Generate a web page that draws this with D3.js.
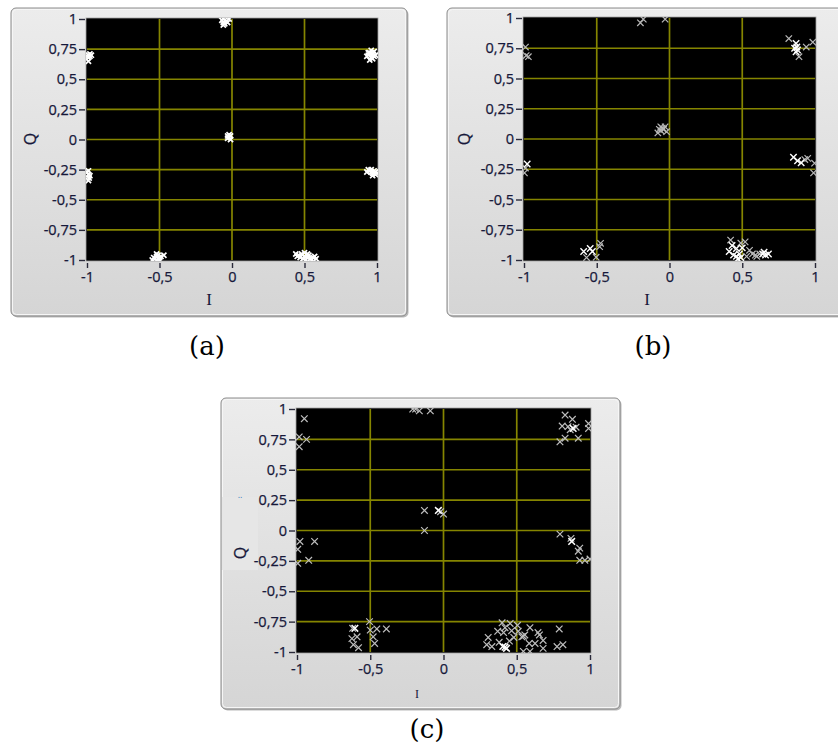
<!DOCTYPE html>
<html>
<head>
<meta charset="utf-8">
<script src="https://cdnjs.cloudflare.com/ajax/libs/d3/7.8.5/d3.min.js"></script>
<style>
  html, body { margin: 0; padding: 0; background: #ffffff; }
  svg { display: block; }
</style>
</head>
<body>
<svg id="chart" width="838" height="749"></svg>
<script>
// ---------- data ----------
const xTicks = [-1, -0.5, 0, 0.5, 1];
const xTickLabels = ["-1", "-0,5", "0", "0,5", "1"];
const yTicks = [1, 0.75, 0.5, 0.25, 0, -0.25, -0.5, -0.75, -1];
const yTickLabels = ["1", "0,75", "0,5", "0,25", "0", "-0,25", "-0,5", "-0,75", "-1"];
const panelCaptions = ["(a)", "(b)", "(c)"];
const xAxisTitle = "I";
const yAxisTitle = "Q";

// panel (a): constellation points [I, Q]
const pointsA = [
  [-0.06, 0.97], [-0.05, 0.96], [-0.04, 0.98], [-0.07, 0.99], [-0.05, 0.99], [-0.02, 1.0], [-0.03, 0.97], [-0.06, 0.95],
  [-0.99, 0.70], [-0.98, 0.69], [-0.97, 0.70], [-0.99, 0.68], [-0.98, 0.71], [-0.99, 0.65],
  [0.94, 0.70], [0.95, 0.72], [0.96, 0.68], [0.97, 0.71], [0.98, 0.73], [0.95, 0.66], [0.93, 0.69], [0.97, 0.67], [0.99, 0.70], [0.96, 0.74], [0.94, 0.72], [0.98, 0.69],
  [-0.02, 0.02], [-0.01, 0.03], [-0.03, 0.01], [-0.02, 0.04], [-0.01, 0.0], [-0.03, 0.03],
  [-0.99, -0.26], [-0.99, -0.29], [-0.985, -0.32], [-0.99, -0.34], [-0.98, -0.30], [-1.0, -0.27],
  [0.95, -0.26], [0.96, -0.27], [0.97, -0.28], [0.98, -0.26], [0.99, -0.29], [0.94, -0.25], [0.96, -0.25], [0.98, -0.28], [0.97, -0.30], [0.99, -0.27], [0.93, -0.27],
  [-0.52, -0.97], [-0.51, -0.96], [-0.50, -0.98], [-0.53, -0.99], [-0.54, -0.98], [-0.49, -0.97], [-0.52, -0.95], [-0.50, -1.0], [-0.55, -1.0], [-0.47, -0.96], [-0.51, -0.99],
  [0.46, -0.96], [0.48, -0.95], [0.50, -0.97], [0.52, -0.98], [0.54, -0.99], [0.56, -0.98], [0.58, -0.99], [0.49, -0.99], [0.51, -1.0], [0.53, -0.96], [0.45, -0.97], [0.47, -0.98], [0.55, -1.0], [0.50, -0.94], [0.57, -0.97], [0.44, -0.95], [0.52, -0.95]
];

// panel (b)
const pointsBBright = [
  [-0.978, -0.207], [-0.545, -0.905], [-0.53, -0.93], [-0.59, -0.93],
  [0.87, 0.79], [0.86, 0.75], [0.88, 0.735], [0.87, 0.72], [0.875, 0.76],
  [0.852, -0.151], [0.88, -0.18], [0.905, -0.196],
  [0.43, -0.88], [0.46, -0.905], [0.41, -0.93], [0.44, -0.96], [0.47, -0.99], [0.48, -0.95], [0.5, -0.9], [0.46, -0.97], [0.49, -0.98],
  [0.65, -0.935], [0.66, -0.96], [0.68, -0.95], [0.64, -0.95]
];
const pointsBDim = [
  [-0.2, 0.96], [-0.18, 0.99], [-0.03, 0.99],
  [-0.99, 0.76], [-0.97, 0.68], [-0.985, 0.69],
  [0.82, 0.83], [0.89, 0.68], [0.94, 0.76], [0.985, 0.80],
  [-0.08, 0.05], [-0.06, 0.07], [-0.05, 0.09], [-0.04, 0.08], [-0.03, 0.10], [-0.02, 0.06], [-0.06, 0.10], [-0.07, 0.08],
  [-0.997, -0.28], [-0.99, -0.24],
  [0.93, -0.17], [0.95, -0.16], [0.997, -0.2], [0.99, -0.28],
  [-0.474, -0.862], [-0.504, -0.977], [-0.57, -0.98], [-0.48, -0.89],
  [0.42, -0.835], [0.49, -0.86], [0.52, -0.85], [0.55, -0.92], [0.57, -0.95], [0.59, -0.96], [0.62, -0.95], [0.53, -0.97], [0.6, -0.97]
];

// panel (c)
const pointsCBright = [
  [0.885, 0.84], [-0.035, 0.165], [0.875, -0.09], [0.405, -0.955], [0.43, -0.97], [0.42, -0.96], [-0.605, -0.805]
];
const pointsCDim = [
  [-0.21, 1.0], [-0.19, 1.0], [-0.165, 0.985], [-0.09, 0.985],
  [-0.95, 0.92], [-0.985, 0.77], [-0.935, 0.75], [-0.985, 0.69],
  [0.83, 0.95], [0.88, 0.915], [0.81, 0.86], [0.85, 0.855], [0.905, 0.85], [0.865, 0.83], [0.99, 0.88], [0.99, 0.84], [0.795, 0.73], [0.83, 0.76], [0.92, 0.76],
  [-0.13, 0.165], [-0.02, 0.155], [0.0, 0.135], [-0.13, 0.0],
  [-0.98, -0.09], [-0.995, -0.155], [-0.88, -0.09], [-0.92, -0.245], [-0.995, -0.27],
  [0.795, -0.03], [0.87, -0.065], [0.93, -0.145], [0.92, -0.17], [0.93, -0.245], [0.965, -0.245], [1.0, -0.235],
  [-0.62, -0.805], [-0.59, -0.875], [-0.625, -0.89], [-0.615, -0.94], [-0.58, -0.965],
  [-0.505, -0.75], [-0.5, -0.82], [-0.48, -0.875], [-0.47, -0.93], [-0.455, -0.81], [-0.39, -0.81],
  [0.305, -0.88], [0.295, -0.94], [0.33, -0.955], [0.37, -0.83], [0.40, -0.76], [0.42, -0.80], [0.41, -0.84], [0.38, -0.92],
  [0.455, -0.765], [0.465, -0.825], [0.48, -0.88], [0.45, -0.91], [0.505, -0.78], [0.51, -0.83], [0.535, -0.875], [0.545, -0.87], [0.555, -0.86],
  [0.59, -0.80], [0.645, -0.84], [0.655, -0.86], [0.68, -0.905], [0.585, -0.93], [0.625, -0.93], [0.68, -0.97],
  [0.79, -0.81], [0.775, -0.955], [0.815, -0.94], [0.545, -0.995], [0.59, -0.995]
];

// ---------- layout ----------
const panels = [
  { frame: [11, 8, 396, 308], xr: [87, 377], yr: [260, 19], series: [{ pts: pointsA, color: "#ffffff", size: 2.6, sw: 1.7 }],
    caption: { x: 207, y: 355, text: panelCaptions[0] }, qPos: [30, 139], iPos: [209, 305] },
  { frame: [447, 8, 400, 308], xr: [524, 815], yr: [260, 18], series: [
      { pts: pointsBDim, color: "#b8b8b8", size: 3.2, sw: 1.2 },
      { pts: pointsBBright, color: "#ffffff", size: 3.2, sw: 1.4 }],
    caption: { x: 653, y: 355, text: panelCaptions[1] }, qPos: [464, 139], iPos: [647, 305] },
  { frame: [221, 398, 399, 311], xr: [297, 590], yr: [652, 409], series: [
      { pts: pointsCDim, color: "#bdbdbd", size: 3.3, sw: 1.2 },
      { pts: pointsCBright, color: "#ffffff", size: 3.3, sw: 1.5 }],
    caption: { x: 427, y: 738, text: panelCaptions[2] }, qPos: [240, 553], iPos: [417, 698], cPanel: true }
];

const svg = d3.select("#chart");
const defs = svg.append("defs");
const grad = defs.append("linearGradient").attr("id", "frameGrad").attr("x1", 0).attr("y1", 0).attr("x2", 0).attr("y2", 1);
grad.append("stop").attr("offset", "0%").attr("stop-color", "#ececec");
grad.append("stop").attr("offset", "100%").attr("stop-color", "#d5d5d5");

const labelColor = "#16183a";
const tickFont = "'Open Sans', 'DejaVu Sans', sans-serif";

panels.forEach((p, pi) => {
  const g = svg.append("g");
  const [fx, fy, fw, fh] = p.frame;
  // shadow
  g.append("rect").attr("x", fx + 1.5).attr("y", fy + 1.5).attr("width", fw).attr("height", fh)
    .attr("rx", 5).attr("fill", "#b9b9b9");
  g.append("rect").attr("x", fx).attr("y", fy).attr("width", fw).attr("height", fh)
    .attr("rx", 5).attr("fill", "url(#frameGrad)").attr("stroke", "#8a8a8a").attr("stroke-width", 1);
  g.append("rect").attr("x", fx + 1.5).attr("y", fy + 1.5).attr("width", fw - 3).attr("height", fh - 3)
    .attr("rx", 4).attr("fill", "none").attr("stroke", "#f6f6f6").attr("stroke-width", 1);

  if (p.cPanel) {
    g.append("rect").attr("x", fx + 1).attr("y", 497).attr("width", 36).attr("height", 73).attr("fill", "#e6e6e6");
    g.append("text").attr("x", 240).attr("y", 498).attr("text-anchor", "middle")
      .attr("font-family", tickFont).attr("font-size", 9).attr("fill", "#3a7bbf").text("..");
  }

  const x = d3.scaleLinear().domain([-1, 1]).range(p.xr);
  const y = d3.scaleLinear().domain([-1, 1]).range(p.yr);
  const left = p.xr[0], right = p.xr[1], top = p.yr[1], bottom = p.yr[0];

  // plot background
  g.append("rect").attr("x", left - 1).attr("y", top - 1).attr("width", right - left + 2).attr("height", bottom - top + 2)
    .attr("fill", "#000000").attr("stroke", "#a0a0a0").attr("stroke-width", 0.8);

  // grid
  const grid = g.append("g").attr("stroke", "#858500").attr("stroke-width", 1.7);
  grid.selectAll("line.v").data(xTicks.filter(d => Math.abs(d) < 1)).join("line")
    .attr("x1", d => x(d)).attr("x2", d => x(d)).attr("y1", top).attr("y2", bottom);
  grid.selectAll("line.h").data(yTicks.filter(d => Math.abs(d) < 1)).join("line")
    .attr("class", "h")
    .attr("y1", d => y(d)).attr("y2", d => y(d)).attr("x1", left).attr("x2", right);

  // clip
  const clipId = "clip" + pi;
  defs.append("clipPath").attr("id", clipId).append("rect")
    .attr("x", left - 1).attr("y", top - 1).attr("width", right - left + 2).attr("height", bottom - top + 2);
  const pg = g.append("g").attr("clip-path", `url(#${clipId})`);
  p.series.forEach(s => {
    const s2 = s.size;
    pg.append("g").selectAll("path").data(s.pts).join("path")
      .attr("d", d => `M${x(d[0]) - s2},${y(d[1]) - s2}L${x(d[0]) + s2},${y(d[1]) + s2}M${x(d[0]) - s2},${y(d[1]) + s2}L${x(d[0]) + s2},${y(d[1]) - s2}`)
      .attr("stroke", s.color).attr("stroke-width", s.sw).attr("fill", "none");
  });

  // axes
  const yAxis = d3.axisLeft(y).tickValues(yTicks).tickFormat((d, i) => yTickLabels[i]).tickSize(6).tickPadding(2);
  const ya = g.append("g").attr("transform", `translate(${left - 2},0)`).call(yAxis);
  const xAxis = d3.axisBottom(x).tickValues(xTicks).tickFormat((d, i) => xTickLabels[i]).tickSize(5).tickPadding(4);
  const xa = g.append("g").attr("transform", `translate(0,${bottom + 3})`).call(xAxis);
  [ya, xa].forEach(a => {
    a.select(".domain").remove();
    a.selectAll(".tick line").attr("stroke", "#2a2a3a").attr("stroke-width", 1.4);
    a.selectAll(".tick text").attr("fill", labelColor).attr("font-family", tickFont).attr("font-size", 14.5)
      .attr("stroke", labelColor).attr("stroke-width", 0.25);
  });

  // axis titles
  g.append("text").attr("transform", `translate(${p.qPos[0]},${p.qPos[1]}) rotate(-90)`)
    .attr("text-anchor", "middle").attr("dy", "0.35em")
    .attr("font-family", tickFont).attr("font-size", 16).attr("fill", labelColor)
    .attr("stroke", labelColor).attr("stroke-width", 0.25).text(yAxisTitle);
  g.append("text").attr("x", p.iPos[0]).attr("y", p.iPos[1]).attr("text-anchor", "middle")
    .attr("font-family", "'Liberation Serif', 'DejaVu Serif', serif").attr("font-size", p.cPanel ? 12 : 17)
    .attr("fill", labelColor).text(xAxisTitle);

  // caption
  svg.append("text").attr("x", p.caption.x).attr("y", p.caption.y).attr("text-anchor", "middle")
    .attr("font-family", "'DejaVu Serif', serif").attr("font-size", 26).attr("fill", "#000000").text(p.caption.text);
});
</script>
</body>
</html>
